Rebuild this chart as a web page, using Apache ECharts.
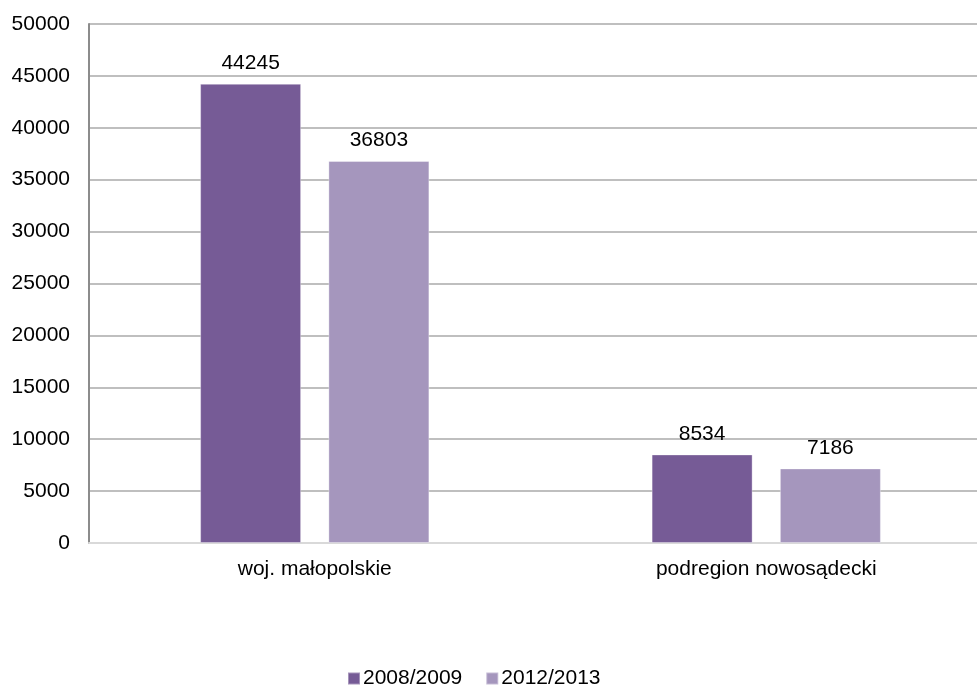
<!DOCTYPE html>
<html><head><meta charset="utf-8">
<script src="https://cdn.jsdelivr.net/npm/echarts@6/dist/echarts.min.js"></script>
<style>html,body{margin:0;padding:0;background:#fff;overflow:hidden;width:977px;height:686px}#c{width:992px;height:686px}</style>
</head><body><div id="c"></div>
<script>
const categories = ['woj. małopolskie', 'podregion nowosądecki'];
const seriesNames = ['2008/2009', '2012/2013'];
const values2008 = [44245, 8534];
const values2012 = [36803, 7186];
const colors = ['#765B96', '#A596BD'];

const chart = echarts.init(document.getElementById('c'), null, {renderer: 'canvas'});
const font = 'Liberation Sans, Arial, sans-serif';
const FS = 21;
const mk = (name, data, color) => ({
  name, type: 'bar', data, barWidth: 101, barGap: '27%',
  itemStyle: {color, borderColor: 'rgba(255,255,255,0.35)', borderWidth: 1},
  label: {show: true, position: 'top', distance: 10, color: '#000', fontFamily: font, fontSize: FS},
  emphasis: {disabled: true}
});
chart.setOption({
  animation: false,
  textStyle: {fontFamily: font},
  color: colors,
  grid: {left: 89, top: 24, right: 0, height: 519, containLabel: false},
  legend: {
    left: 347, top: 668, padding: 0, itemWidth: 12, itemHeight: 12, itemGap: 23,
    icon: 'rect', textStyle: {fontSize: FS, color: '#000', fontFamily: font, padding: [0,0,0,-2]},
    data: seriesNames
  },
  xAxis: {
    type: 'category', data: categories,
    axisLine: {lineStyle: {color: '#D9D9D9', width: 2}},
    axisTick: {show: false},
    axisLabel: {color: '#000', fontSize: FS, margin: 16, fontFamily: font}
  },
  yAxis: {
    type: 'value', min: 0, max: 50000, interval: 5000,
    axisLine: {show: true, lineStyle: {color: '#8C8C8C', width: 2}},
    axisTick: {show: false},
    splitLine: {lineStyle: {color: '#BFBFBF', width: 2}},
    axisLabel: {color: '#000', fontSize: FS, margin: 19, fontFamily: font, formatter: v => String(v)}
  },
  series: [mk(seriesNames[0], values2008, colors[0]), mk(seriesNames[1], values2012, colors[1])]
});
</script></body></html>
